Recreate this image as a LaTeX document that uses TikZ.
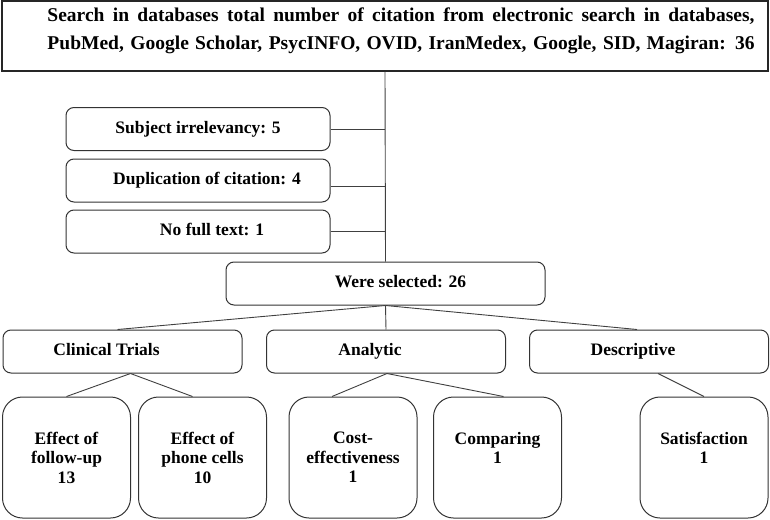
\documentclass[tikz,border=0pt]{standalone}
\usepackage{fontspec}
\setmainfont{Liberation Serif}

\begin{document}
\begin{tikzpicture}[x=1pt,y=-1pt,
    box/.style={draw=black!80, line width=1pt, rounded corners=8pt, inner sep=0pt,
      font=\bfseries\fontsize{17.5}{20}\selectfont},
    side/.style={box, minimum width=264pt, minimum height=43pt, text height=12pt, text depth=4pt},
    kind/.style={box, minimum width=239pt, minimum height=43pt, text height=12pt, text depth=4pt},
    leaf/.style={box, rounded corners=20pt, minimum width=128pt, minimum height=121pt,
      align=center, font=\bfseries\fontsize{17.5}{19.5}\selectfont},
    link/.style={draw=black!75, line width=0.9pt}]
  \useasboundingbox (0,0) rectangle (770,519);

  % search box
  \node[draw=black!85, line width=1.2pt, minimum width=766pt, minimum height=70pt,
    inner sep=0pt, align=center, font=\bfseries\fontsize{19.5}{25}\selectfont] (srch) at (385,36)
    {\hspace*{32pt}\makebox[707pt][s]{Search in databases total number of citation from electronic search in databases,}\\[3pt]
     \hspace*{32pt}\makebox[707pt][s]{PubMed, Google Scholar, PsycINFO, OVID, IranMedex, Google, SID, Magiran: 36}\\[-10pt]\mbox{}};

  % excluded
  \node[side] (subj) at (198,129) {Subject irrelevancy: 5};
  \node[side] (dupl) at (198,180.5) {\hspace*{18pt}Duplication of citation: 4};
  \node[side] (nful) at (198,231.5) {\hspace*{28pt}No full text: 1};

  \node[box, minimum width=319pt, minimum height=43pt, text height=12pt, text depth=4pt] (sel) at (385.5,283.5) {\hspace*{30pt}Were selected: 26};

  \draw[link] (srch.south) -- (sel.north);
  \draw[link] (subj.east) -- (subj.east -| srch.south);
  \draw[link] ([yshift=-6pt]dupl.east) -- ([yshift=-6pt]dupl.east -| srch.south);
  \draw[link] (nful.east) -- (nful.east -| srch.south);

  % kinds of study
  \node[kind] (clin) at (122.5,351.5) {Clinical Trials\hspace*{32pt}};
  \node[kind] (anal) at (386,351.5) {Analytic\hspace*{32pt}};
  \node[kind] (desc) at (649,351.5) {Descriptive\hspace*{32pt}};

  \draw[link] (sel.south) -- ([xshift=-5pt]clin.north);
  \draw[link] (sel.south) -- (anal.north);
  \draw[link] (sel.south) -- ([xshift=-12pt]desc.north);

  % studies
  \node[leaf] (foll) at (66.5,457.5) {Effect of\\follow-up\\13};
  \node[leaf] (phon) at (202.5,457.5) {Effect of\\phone cells\\10};
  \node[leaf] (cost) at (353,457.5) {Cost-\\effectiveness\\1};
  \node[leaf] (comp) at (497.5,457.5) {Comparing\\1\\\phantom{1}};
  \node[leaf] (sat) at (704,457.5) {Satisfaction\\1\\\phantom{1}};

  \draw[link] ([xshift=8pt]clin.south) -- (foll.north);
  \draw[link] ([xshift=8pt]clin.south) -- ([xshift=-10pt]phon.north);
  \draw[link] ([xshift=1pt]anal.south) -- ([xshift=-21pt]cost.north);
  \draw[link] ([xshift=1pt]anal.south) -- ([xshift=6pt]comp.north);
  \draw[link] ([xshift=9pt]desc.south) -- (sat.north);
\end{tikzpicture}
\end{document}
